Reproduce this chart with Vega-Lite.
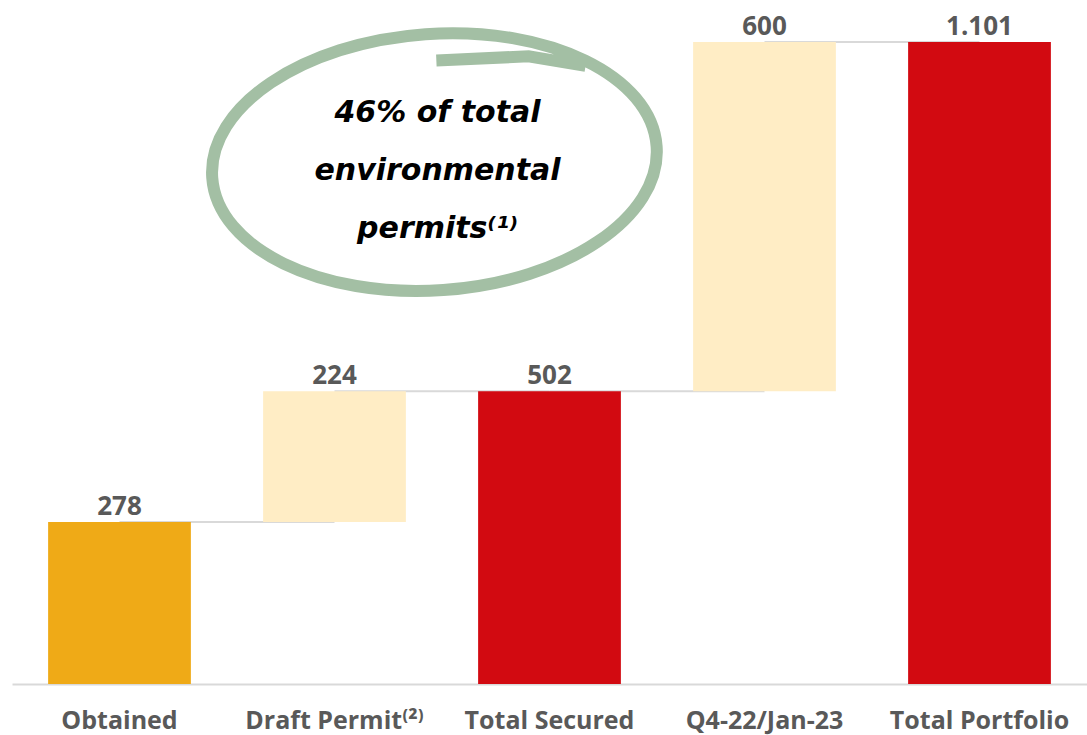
{
  "$schema": "https://vega.github.io/schema/vega-lite/v6.json",
  "width": 1075,
  "height": 684,
  "autosize": {"type": "none"},
  "padding": {"left": 12, "right": 0, "top": 0, "bottom": 51},
  "background": "white",
  "config": {"view": {"stroke": null}},
  "data": {
    "values": [
      {"category": "Obtained", "start": 0, "end": 278, "label": "278", "kind": "obtained", "next": "Draft Permit⁽²⁾"},
      {"category": "Draft Permit⁽²⁾", "start": 278, "end": 502, "label": "224", "kind": "step", "next": "Total Secured"},
      {"category": "Total Secured", "start": 0, "end": 502, "label": "502", "kind": "total", "next": "Q4-22/Jan-23"},
      {"category": "Q4-22/Jan-23", "start": 502, "end": 1101, "label": "600", "kind": "step", "next": "Total Portfolio"},
      {"category": "Total Portfolio", "start": 0, "end": 1101, "label": "1.101", "kind": "total", "next": null}
    ]
  },
  "encoding": {
    "x": {
      "field": "category",
      "type": "nominal",
      "sort": null,
      "scale": {"paddingInner": 0.336, "paddingOuter": 0.168},
      "axis": {
        "title": null,
        "labelAngle": 0,
        "ticks": false,
        "domain": true,
        "domainColor": "#D9D9D9",
        "domainWidth": 2,
        "labelFont": "Open Sans",
        "labelFontSize": 25,
        "labelFontWeight": "bold",
        "labelColor": "#595959",
        "labelPadding": 24,
        "labelLimit": 300
      }
    }
  },
  "layer": [
    {
      "transform": [{"filter": "datum.next != null"}],
      "mark": {"type": "rule", "color": "#D9D9D9", "strokeWidth": 2},
      "encoding": {
        "x2": {"field": "next"},
        "y": {"field": "end", "type": "quantitative", "scale": {"domain": [0, 1173], "nice": false}, "axis": null}
      }
    },
    {
      "mark": {"type": "bar"},
      "encoding": {
        "y": {"field": "start", "type": "quantitative", "scale": {"domain": [0, 1173], "nice": false}, "axis": null},
        "y2": {"field": "end"},
        "color": {
          "field": "kind",
          "type": "nominal",
          "scale": {"domain": ["obtained", "step", "total"], "range": ["#EFAA17", "#FFEDC5", "#D20A11"]},
          "legend": null
        }
      }
    },
    {
      "mark": {"type": "text", "baseline": "alphabetic", "dy": -7, "font": "Open Sans", "fontSize": 26, "fontWeight": "bold", "color": "#595959"},
      "encoding": {
        "y": {"field": "end", "type": "quantitative", "scale": {"domain": [0, 1173], "nice": false}, "axis": null},
        "text": {"field": "label"}
      }
    },
    {
      "data": {"values": [{"note": "annotation"}]},
      "mark": {
        "type": "point",
        "shape": "M -0.99 0 A 0.99 0.57 0 1 1 0.99 0 A 0.99 0.57 0 1 1 -0.99 0 Z M 0.04 -0.45 L 0.45 -0.44 L 0.7 -0.38",
        "size": 202500,
        "filled": false,
        "stroke": "#A3BFA4",
        "strokeWidth": 12,
        "opacity": 1,
        "angle": -4
      },
      "encoding": {
        "x": {"datum": "Draft Permit⁽²⁾", "bandPosition": 1.2},
        "y": {"datum": 895, "type": "quantitative"}
      }
    },
    {
      "data": {"values": [{"note": "annotation"}]},
      "mark": {
        "type": "text",
        "text": ["46% of total", "environmental", "permits⁽¹⁾"],
        "lineHeight": 58,
        "baseline": "middle",
        "font": "DejaVu Sans",
        "fontSize": 30,
        "fontWeight": "bold",
        "fontStyle": "italic",
        "color": "#000000",
        "dx": 103
      },
      "encoding": {
        "x": {"datum": "Draft Permit⁽²⁾"},
        "y": {"datum": 979, "type": "quantitative"}
      }
    }
  ]
}
